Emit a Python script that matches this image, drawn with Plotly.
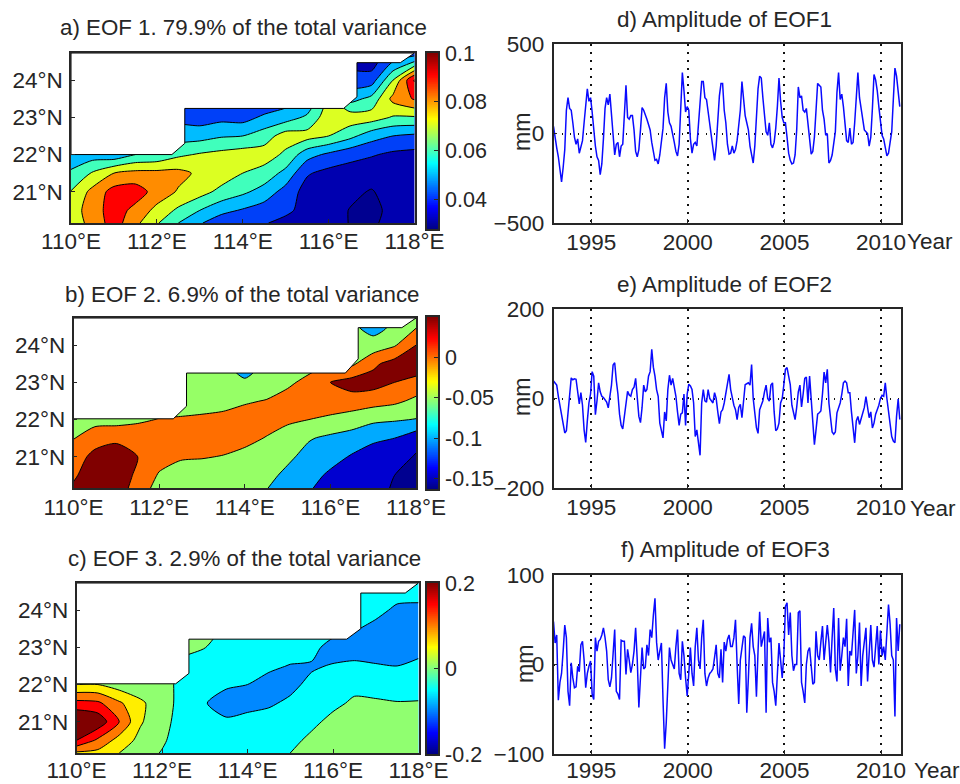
import numpy as np
import plotly.graph_objects as go

W, H = 960, 784
FONT = "Liberation Sans"
INK = "#262626"

# ---------- map grids ----------
lon = [110, 110.5, 111, 111.5, 112, 112.5, 113, 113.5, 114, 114.5, 115, 115.5, 116, 116.5, 117, 117.5, 118]
lat = [20.16, 20.5, 21, 21.5, 22, 22.5, 23, 23.5, 24, 24.5, 24.73]
lon_ticks = [110, 112, 114, 116, 118]
lat_ticks = [21, 22, 23, 24]
lon_labels = ["110°E", "112°E", "114°E", "116°E", "118°E"]
lat_labels = ["21°N", "22°N", "23°N", "24°N"]

# rows run south to north
eof1 = [
 [.075,.083,.095,.0825,.071,.060,.051,.044,.042,.041,.036,.034,.033,.0297,.029,.032,.034],
 [.075,.085,.095,.087,.077,.068,.060,.053,.049,.045,.043,.035,.033,.0297,.028,.032,.034],
 [.0705,.083,.094,.095,.086,.079,.074,.067,.062,.056,.046,.036,.035,.0315,.0295,.033,.035],
 [.0615,.071,.080,.083,.083,.083,.078,.076,.070,.066,.057,.041,.037,.036,.033,.035,.036],
 [.054,.055,.053,.060,.062,.068,.071,.073,.075,.075,.068,.054,.048,.043,.041,.038,.037],
 [.050,.050,.048,.050,.052,.055,.056,.059,.060,.065,.075,.074,.070,.063,.054,.050,.048],
 [.045,.045,.044,.045,.046,.047,.045,.047,.046,.052,.055,.062,.076,.076,.075,.069,.069],
 [.040,.040,.040,.040,.040,.040,.040,.040,.038,.040,.045,.050,.070,.056,.063,.083,.091],
 [.038,.038,.038,.038,.038,.038,.038,.038,.036,.036,.038,.040,.050,.045,.045,.070,.101],
 [.036,.036,.036,.036,.036,.036,.036,.036,.036,.036,.036,.036,.040,.036,.035,.050,.060],
 [.035,.035,.035,.035,.035,.035,.035,.035,.035,.035,.035,.035,.035,.035,.035,.040,.045],
]
eof2 = [
 [.055,.070,.075,.030,-.020,-.030,-.035,-.035,-.040,-.047,-.080,-.095,-.120,-.140,-.140,-.153,-.170],
 [.045,.070,.080,.040,-.005,-.020,-.025,-.020,-.030,-.035,-.062,-.080,-.110,-.130,-.135,-.150,-.170],
 [.030,.062,.075,.050,.020,.005,.003,-.002,-.012,-.020,-.040,-.067,-.080,-.105,-.125,-.125,-.155],
 [-.002,.032,.040,.030,.030,.030,.025,.020,.012,-.002,-.015,-.046,-.060,-.070,-.090,-.100,-.130],
 [-.020,-.020,-.020,-.008,.002,.004,.008,.012,.020,.018,.006,0,-.010,-.025,-.040,-.045,-.052],
 [-.030,-.030,-.030,-.030,-.025,-.020,-.020,-.015,-.005,.002,.020,.030,.030,.030,.020,.010,-.010],
 [-.040,-.040,-.040,-.040,-.035,-.030,-.030,-.030,-.043,-.025,-.010,.015,.050,.070,.070,.050,.030],
 [-.050,-.050,-.050,-.050,-.045,-.040,-.040,-.040,-.075,-.040,-.030,-.020,0,-.010,.040,.070,.090],
 [-.050,-.050,-.050,-.050,-.045,-.040,-.040,-.040,-.050,-.040,-.030,-.030,-.025,-.030,-.030,-.005,.050],
 [-.050,-.050,-.050,-.050,-.045,-.040,-.040,-.040,-.050,-.040,-.030,-.030,-.030,-.040,-.070,-.040,-.005],
 [-.050,-.050,-.050,-.050,-.045,-.040,-.040,-.040,-.050,-.040,-.030,-.030,-.030,-.040,-.060,-.040,-.020],
]
eof3 = [
 [.090,.085,.050,.020,-.003,-.030,-.030,-.030,-.025,-.015,0,.010,.020,.025,.025,.020,.020],
 [.200,.140,.080,.035,.007,-.025,-.030,-.030,-.030,-.025,-.012,.010,.020,.025,.025,.020,.020],
 [.260,.235,.150,.055,.015,-.020,-.040,-.045,-.040,-.035,-.030,-.010,.012,.020,.020,.015,.015],
 [.167,.160,.108,.060,.018,-.015,-.048,-.065,-.060,-.055,-.043,-.035,-.010,.007,.005,.002,.003],
 [.050,.050,.025,.015,.012,-.010,-.035,-.045,-.050,-.065,-.060,-.040,-.030,-.012,-.015,-.020,-.020],
 [.020,.020,.015,.010,.005,-.005,-.025,-.030,-.035,-.042,-.052,-.055,-.047,-.042,-.047,-.050,-.040],
 [.015,.015,.010,.010,.010,.005,.001,-.015,-.020,-.025,-.030,-.035,-.070,-.070,-.070,-.075,-.065],
 [.015,.015,.015,.015,.015,.010,.020,-.010,-.015,-.020,-.025,-.025,-.030,-.045,-.065,-.080,-.080],
 [.015,.015,.015,.015,.015,.010,.010,-.010,-.015,-.020,-.020,-.020,-.020,-.020,-.035,-.060,-.060],
 [.015,.015,.015,.015,.015,.010,.010,-.010,-.015,-.020,-.020,-.020,-.020,-.020,-.020,-.030,-.035],
 [.015,.015,.015,.015,.015,.010,.010,-.010,-.015,-.020,-.020,-.020,-.020,-.020,-.020,-.020,-.020],
]

# land outline over each map
land1_lon = [110, 110, 112.35, 112.65, 112.65, 116.35, 116.66, 116.66, 117.67, 118, 118, 110]
land1_lat = [24.73, 22, 22, 22.3, 23.24, 23.24, 23.55, 24.47, 24.47, 24.73, 24.73, 24.73]
land2_lon = [110, 110, 112.33, 112.64, 112.64, 116.35, 116.65, 116.65, 117.67, 118, 118, 110]
land2_lat = [24.73, 22.02, 22.02, 22.36, 23.25, 23.25, 23.63, 24.47, 24.47, 24.73, 24.73, 24.73]
land3_lon = [110, 110, 112.32, 112.63, 112.63, 116.32, 116.65, 116.65, 117.69, 118, 118, 110]
land3_lat = [24.73, 22.02, 22.02, 22.3, 23.22, 23.22, 23.5, 24.46, 24.46, 24.73, 24.73, 24.73]

# filled band colours
bands1 = ["#000090", "#0000b0", "#0040f8", "#00bcff", "#40ffbc", "#dcff22", "#ff8c00", "#ff0000", "#800000"]
bands2 = ["#000090", "#0000d0", "#00aaff", "#96ff66", "#ff6e00", "#800000"]
bands3 = ["#0088ff", "#00ffff", "#90ff70", "#ffee00", "#ff7800", "#ff0000", "#800000"]

# ---------- amplitude series (monthly) ----------
amp1 = [
 40,-30,-80,-130,-215,-270,-190,-90,130,200,140,130,
 60,-20,-60,-30,-110,-80,-40,60,180,250,180,200,
 120,20,-70,-130,-150,-230,-170,-30,140,200,160,220,
 100,-40,-120,-60,-50,-130,-70,-60,130,270,90,80,
 100,100,20,-100,-130,-90,20,145,130,110,80,50,
 20,-50,-100,-150,-145,-170,-120,-40,30,200,280,120,
 60,40,0,-50,-100,-125,-60,190,340,240,120,150,
 130,-30,-110,-60,-50,-70,40,200,290,290,200,190,
 120,40,-30,-90,-150,-70,100,210,280,280,130,60,
 -60,-115,-110,-70,-110,-90,-40,60,130,290,180,100,
 60,20,-70,-120,-165,-70,130,250,320,310,200,90,
 10,-10,60,-60,-80,-50,30,150,310,180,90,60,
 60,-20,-110,-150,-170,-165,-120,20,260,200,210,130,
 120,140,50,-60,-115,-100,-20,130,280,270,260,130,
 80,-10,0,-165,-150,-120,-60,10,230,340,190,220,
 150,30,-40,-50,30,-60,-50,60,220,340,200,130,
 70,20,10,0,-70,-20,140,330,300,240,150,60,
 -10,-30,-70,-125,-110,-50,10,190,365,320,230,150,
]
amp2 = [
 39,35,30,5,-15,-30,-55,-77,-72,-30,10,46,
 42,44,43,10,-12,13,-15,-70,-98,-50,-10,10,
 60,50,-36,-5,35,15,5,2,-2,-8,-21,0,
 30,75,80,40,10,-35,-60,-68,-35,-15,16,8,
 5,20,25,45,5,-40,-54,-20,30,15,20,50,
 60,110,70,50,20,5,-55,-70,-88,-30,-50,20,
 52,30,45,25,5,-30,-60,-35,-32,10,-60,10,
 32,28,20,-10,-85,-70,-95,-127,-10,20,-5,-8,
 20,0,-5,-10,13,0,-30,-56,-30,-25,-10,10,
 25,54,20,0,-15,-25,-47,-20,-13,-43,0,31,
 33,35,30,76,0,-32,-65,-78,-25,-15,-5,15,
 30,0,-6,30,35,-30,-72,-68,-55,-10,0,30,
 65,69,50,31,-15,-30,-47,-20,15,30,-19,10,
 45,48,-10,50,-5,-40,-103,-70,-35,-32,-28,10,
 59,35,65,-10,-50,-75,-80,-75,-32,-20,-10,10,
 35,39,35,13,13,-30,-70,-99,-50,-40,-58,-45,
 -35,-20,4,-25,-43,-30,-66,-55,-35,-25,-15,0,
 7,5,35,0,-28,-50,-85,-95,-99,-40,-1,-47,
]
amp3 = [
 48,24,33,-40,-20,-10,15,44,30,-30,-46,2,
 -15,-26,-25,-2,-8,22,26,5,-26,-10,-2,4,
 -33,-39,30,15,26,28,33,41,30,15,-17,-25,
 -15,11,39,-30,-33,-39,27,26,26,-11,17,5,
 -9,0,15,41,5,-48,-5,19,-5,-3,22,10,
 39,30,55,74,25,5,15,24,-40,-94,-65,-15,
 19,5,0,-5,20,39,-10,-17,26,10,-15,-35,
 -10,19,-10,-24,20,41,5,-5,30,50,-10,-24,
 -15,-10,-8,-5,8,22,-10,-15,17,-20,25,15,
 28,33,20,20,30,50,0,-44,5,20,32,30,
 -54,-15,30,46,20,10,-36,15,59,20,30,37,
 -54,52,25,30,-20,-30,-46,-10,24,5,-15,10,
 65,69,33,58,10,-7,0,0,58,60,-20,-30,
 -43,0,15,19,0,-22,-20,37,10,5,25,43,
 5,30,44,25,-9,30,63,-5,-19,52,-7,10,
 30,20,51,-24,15,10,40,61,-10,10,47,-24,
 10,25,41,-19,20,44,5,-3,20,43,0,38,
 10,20,5,40,67,45,10,5,-58,52,15,45,
]
amp_years = [1995, 2000, 2005, 2010]
assert len(amp1) == len(amp2) == len(amp3) == 216
months = 1993.05 + np.arange(216) / 12

JET = [[0, "rgb(0,0,128)"], [.125, "rgb(0,0,255)"], [.375, "rgb(0,255,255)"],
       [.625, "rgb(255,255,0)"], [.875, "rgb(255,0,0)"], [1, "rgb(128,0,0)"]]

fig = go.Figure()
layout = {}


def dom_x(l, r):
    return [l / W, r / W]


def dom_y(t, b):
    return [1 - b / H, 1 - t / H]


def axis_common(size=22.5):
    return dict(showline=True, linecolor=INK, linewidth=1.5, mirror=True, ticks="inside", ticklen=4,
                tickwidth=1, tickcolor=INK, showgrid=False, zeroline=False, automargin=False,
                tickfont=dict(family=FONT, size=size, color=INK))


def stepped(colors):
    n = len(colors) - 1
    return [[i / n, c] for i, c in enumerate(colors)]


def add_map(n, z, bands, start, end, size, landx, landy, box, standoff):
    l, r, t, b = box
    xa, ya = f"x{n}", f"y{n}"
    fig.add_trace(go.Contour(x=lon, y=lat, z=z, xaxis=xa, yaxis=ya, showscale=False, autocontour=False,
                             colorscale=stepped(bands), connectgaps=False,
                             contours=dict(start=start, end=end, size=size, coloring="fill", showlines=True),
                             line=dict(color="black", width=1, smoothing=0.7), hoverinfo="skip"))
    fig.add_trace(go.Scatter(x=landx, y=landy, xaxis=xa, yaxis=ya, mode="lines", fill="toself",
                             fillcolor="white", line=dict(color="black", width=1), showlegend=False,
                             hoverinfo="skip"))
    layout[f"xaxis{n}"] = dict(axis_common(), domain=dom_x(l, r), range=[110, 118], anchor=ya,
                               tickvals=lon_ticks, ticktext=lon_labels, ticklabelstandoff=standoff)
    layout[f"yaxis{n}"] = dict(axis_common(), domain=dom_y(t, b), range=[20.16, 24.73], anchor=xa,
                               tickvals=lat_ticks, ticktext=lat_labels, ticklabelstandoff=2)


def add_bar(n, vmin, vmax, ticks, labels, box):
    l, r, t, b = box
    xa, ya = f"x{n}", f"y{n}"
    ramp = np.linspace(vmin, vmax, 256)
    fig.add_trace(go.Heatmap(x=[0, 1], y=ramp, z=[[v, v] for v in ramp], xaxis=xa, yaxis=ya, showscale=False,
                             colorscale=JET, zmin=vmin, zmax=vmax, hoverinfo="skip"))
    layout[f"xaxis{n}"] = dict(domain=dom_x(l, r), range=[0, 1], anchor=ya, showticklabels=False, ticks="",
                               showline=True, linecolor=INK, linewidth=1.5, mirror=True, showgrid=False,
                               zeroline=False, automargin=False)
    layout[f"yaxis{n}"] = dict(axis_common(21.5), domain=dom_y(t, b), range=[vmin, vmax], anchor=xa, side="right",
                               tickvals=ticks, ticktext=labels, ticklabelstandoff=1)


def add_series(n, values, ymax, box, standoff):
    l, r, t, b = box
    xa, ya = f"x{n}", f"y{n}"
    fig.add_trace(go.Scatter(x=months, y=values, xaxis=xa, yaxis=ya, mode="lines",
                             line=dict(color="#0a0aff", width=1.5), showlegend=False, hoverinfo="skip"))
    grid = dict(showgrid=True, gridcolor="#111111", griddash="1.5px,6.5px", gridwidth=1.5)
    layout[f"xaxis{n}"] = {**axis_common(), **grid, "domain": dom_x(l, r), "range": [1993.05, 2011.03], "anchor": ya,
                           "tickvals": amp_years, "ticktext": [str(y) for y in amp_years],
                           "ticklabelstandoff": standoff}
    layout[f"yaxis{n}"] = {**axis_common(), **grid, "domain": dom_y(t, b), "range": [-ymax, ymax], "anchor": xa,
                           "tickvals": [-ymax, 0, ymax], "ticklabelstandoff": 3}


add_map(1, eof1, bands1, .03, .10, .01, land1_lon, land1_lat, (71, 414.5, 53, 223), -3)
add_map(2, eof2, bands2, -.15, .05, .05, land2_lon, land2_lat, (73.5, 416, 318, 488), -2)
add_map(3, eof3, bands3, -.05, .20, .05, land3_lon, land3_lat, (76.5, 418.5, 583, 753), -4)
add_bar(4, .0277, .1, [.04, .06, .08, .1], ["0.04", "0.06", "0.08", "0.1"], (427, 438, 53, 229))
add_bar(5, -.163, .0496, [-.15, -.1, -.05, 0], ["-0.15", "-0.1", "-0.05", "0"], (427, 438, 317, 489))
add_bar(6, -.2, .2, [-.2, 0, .2], ["-0.2", "0", "0.2"], (427, 438, 583, 754))
add_series(7, amp1, 500, (553.5, 901, 44, 223), -2)
add_series(8, amp2, 200, (553.5, 901, 309, 488), -2)
add_series(9, amp3, 100, (553.5, 901, 575, 754), -5)

labels = [
 ("a) EOF 1. 79.9% of the total variance", 243, 28, 22.3, 0),
 ("b) EOF 2. 6.9% of the total variance", 242, 294, 22.3, 0),
 ("c) EOF 3. 2.9% of the total variance", 244.5, 558, 22.3, 0),
 ("d) Amplitude of EOF1", 724, 20, 22.5, 0),
 ("e) Amplitude of EOF2", 724, 285, 22.5, 0),
 ("f) Amplitude of EOF3", 725, 549, 22.5, 0),
 ("Year", 930, 241, 22.5, 0),
 ("Year", 933, 508, 22.5, 0),
 ("Year", 937, 770, 22.5, 0),
 ("mm", 522, 132, 23, -90),
 ("mm", 522, 397, 23, -90),
 ("mm", 525, 664, 23, -90),
]
annotations = [dict(text=t, x=x / W, y=1 - y / H, xref="paper", yref="paper", xanchor="center", yanchor="middle",
                    showarrow=False, textangle=a, font=dict(family=FONT, size=s, color=INK))
               for t, x, y, s, a in labels]

fig.update_layout(width=W, height=H, margin=dict(l=0, r=0, t=0, b=0), paper_bgcolor="white", plot_bgcolor="white",
                  showlegend=False, annotations=annotations, **layout)
fig.write_html("out.html", config={"displayModeBar": False}, post_script="document.body.style.margin='0';")
